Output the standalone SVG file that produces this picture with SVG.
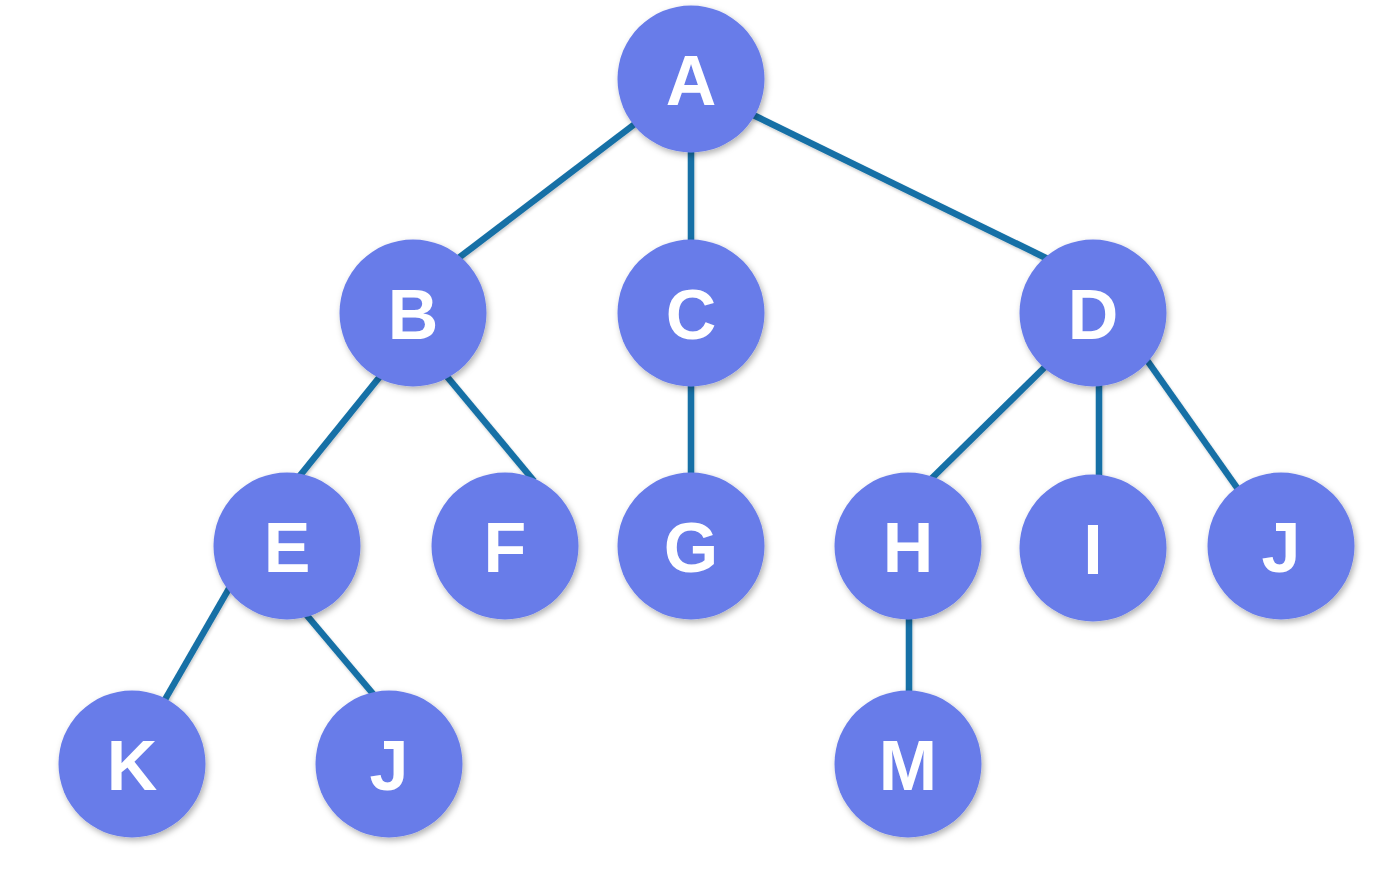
<svg xmlns="http://www.w3.org/2000/svg" width="1380" height="888" viewBox="0 0 1380 888">
<defs>
<filter id="sh" x="-30%" y="-30%" width="160%" height="160%">
<feDropShadow dx="2" dy="3" stdDeviation="3" flood-color="#000" flood-opacity="0.3"/>
</filter>
<filter id="lsh" x="-10%" y="-10%" width="120%" height="120%">
<feDropShadow dx="1" dy="2" stdDeviation="1.5" flood-color="#000" flood-opacity="0.2"/>
</filter>
<style>
.e{stroke:#1570a6;stroke-width:6.5;fill:none}
.n circle{fill:#687ce9;filter:url(#sh)}
.n text{fill:#fff;font-family:"Liberation Sans",Arial,sans-serif;font-weight:bold;font-size:70px;text-anchor:middle}
</style>
</defs>
<rect width="1380" height="888" fill="#fff"/>
<g id="edges" filter="url(#lsh)">
<line class="e" x1="640" y1="120" x2="452" y2="263"/>
<line class="e" x1="691" y1="140" x2="691" y2="250"/>
<line class="e" x1="745" y1="111" x2="1052" y2="261"/>
<line class="e" x1="382" y1="374" x2="298" y2="478"/>
<line class="e" x1="444" y1="373" x2="534" y2="481"/>
<line class="e" x1="691" y1="375" x2="691" y2="485"/>
<line class="e" x1="1048" y1="364" x2="927" y2="483"/>
<line class="e" x1="1099" y1="375" x2="1099" y2="485"/>
<line class="e" x1="1144" y1="356" x2="1240" y2="492"/>
<line class="e" x1="231" y1="585" x2="163" y2="703"/>
<line class="e" x1="304" y1="612" x2="374" y2="695"/>
<line class="e" x1="909" y1="610" x2="909" y2="700"/>
</g>
<g id="A" class="n"><circle cx="691" cy="79" r="73.5"/><text x="691" y="105">A</text></g>
<g id="B" class="n"><circle cx="413" cy="313" r="73.5"/><text x="413" y="339">B</text></g>
<g id="C" class="n"><circle cx="691" cy="313" r="73.5"/><text x="691" y="339">C</text></g>
<g id="D" class="n"><circle cx="1093" cy="313" r="73.5"/><text x="1093" y="339">D</text></g>
<g id="E" class="n"><circle cx="287" cy="546" r="73.5"/><text x="287" y="572">E</text></g>
<g id="F" class="n"><circle cx="505" cy="546" r="73.5"/><text x="505" y="572">F</text></g>
<g id="G" class="n"><circle cx="691" cy="546" r="73.5"/><text x="691" y="572">G</text></g>
<g id="H" class="n"><circle cx="908" cy="546" r="73.5"/><text x="908" y="572">H</text></g>
<g id="I" class="n"><circle cx="1093" cy="548" r="73.5"/><text x="1093" y="574">I</text></g>
<g id="J" class="n"><circle cx="1281" cy="546" r="73.5"/><text x="1281" y="572">J</text></g>
<g id="K" class="n"><circle cx="132" cy="764" r="73.5"/><text x="132" y="790">K</text></g>
<g id="J2" class="n"><circle cx="389" cy="764" r="73.5"/><text x="389" y="790">J</text></g>
<g id="M" class="n"><circle cx="908" cy="764" r="73.5"/><text x="908" y="790">M</text></g>
</svg>
